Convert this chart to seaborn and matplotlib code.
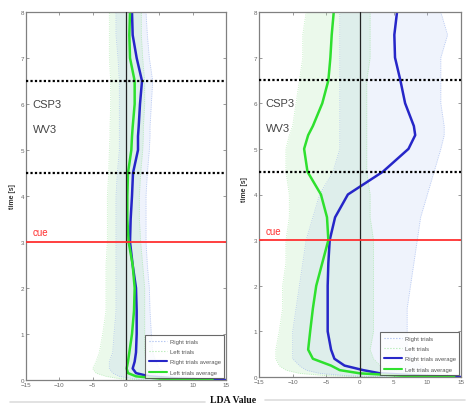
import numpy as np
import pandas as pd
import matplotlib
matplotlib.use("Agg")
import matplotlib.pyplot as plt
from matplotlib.lines import Line2D
import seaborn as sns

# ---------------- data ----------------
time_s = [0.0, 0.03, 0.08, 0.15, 0.25, 0.4, 0.6, 1.0, 1.5, 2.0, 2.5, 3.0,
          3.5, 4.0, 4.5, 5.0, 5.3, 5.5, 6.0, 6.5, 7.0, 7.5, 8.0]

# left panel averages
p1_right_avg = [15, 8, 3.5, 1.5, 1.0, 1.3, 1.5, 1.6, 1.6, 1.5, 1.0, 0.6,
                0.7, 0.9, 1.05, 1.8, 1.8, 1.9, 2.1, 2.4, 1.6, 1.0, 0.9]
p1_left_avg = [13, 5, 1.5, 0.3, 0.1, 0.3, 0.5, 0.9, 1.2, 1.3, 1.0, 0.4,
               0.2, 0.2, 0.3, 0.8, 0.9, 1.0, 1.3, 1.3, 0.6, 0.5, 0.6]
# left panel trial envelopes
p1_right_lo = [3, 1, -1, -2, -2.5, -2.5, -2, -1.8, -1.5, -1.5, -1.5, -1.5,
               -1.5, -1.5, -1.3, -1, -1, -1, -1, -1, -1.2, -1.5, -1.5]
p1_right_hi = [15, 12, 8, 6, 5, 4.5, 4, 3.8, 3.6, 3.5, 3.2, 3,
               3, 3, 3.2, 3.5, 3.6, 3.6, 3.8, 4, 3.5, 3.2, 3]
p1_left_lo = [2, -1, -3, -4.5, -5, -4.5, -4, -3.5, -3, -3, -3, -2.8,
              -2.8, -2.8, -2.6, -2.5, -2.4, -2.4, -2.3, -2.3, -2.5, -2.5, -2.5]
p1_left_hi = [13, 10, 6, 4, 3, 3, 2.8, 2.8, 2.8, 2.8, 2.5, 2.2,
              2, 2, 2.2, 2.5, 2.6, 2.6, 2.8, 2.8, 2.5, 2.3, 2.3]

# right panel averages
p2_right_avg = [15, 9, 3, 0.5, -2.3, -3.8, -4.3, -4.8, -4.8, -4.8, -4.7, -4.5,
                -3.7, -1.8, 3.4, 7.2, 8.2, 8.0, 6.7, 6.0, 5.2, 5.1, 5.5]
p2_left_avg = [14, 6, 0, -3, -4.3, -7.0, -7.7, -7.4, -7.0, -6.5, -5.6, -4.7,
               -4.9, -5.8, -7.8, -8.3, -7.7, -7.0, -5.6, -4.7, -4.4, -4.2, -3.9]
# right panel trial envelopes
p2_right_lo = [4, -2, -6, -8, -9, -10, -10, -10, -9.5, -9, -8.5, -8,
               -7, -6, -4, -3, -3, -3, -3, -3, -3, -3, -3]
p2_right_hi = [15, 14, 12, 10, 9, 8, 7, 7, 7, 7.5, 8, 8.5,
               9, 10, 11, 12, 12.5, 12.5, 12, 12, 12, 13, 12]
p2_left_lo = [3, -5, -9, -11, -12, -12.5, -12.5, -12, -11.5, -11.5, -11, -11,
              -10.5, -10.5, -11, -11, -10.5, -10, -9.5, -9, -8.5, -8.5, -8]
p2_left_hi = [14, 12, 8, 5, 3, 2, 1.5, 2, 2, 2, 2, 2,
              1.5, 1.5, 1, 1, 1, 1, 1, 1, 1.5, 1.5, 1.5]

x_ticks = [-15, -10, -5, 0, 5, 10, 15]
y_ticks = [0, 1, 2, 3, 4, 5, 6, 7, 8]
legend_labels = ["Right trials", "Left trials", "Right trials average", "Left trials average"]

# ---------------- styling ----------------
sns.set_style("white")
plt.rcParams["font.family"] = ["Liberation Sans Narrow", "Liberation Sans", "DejaVu Sans"]

BLUE = "#2626c8"
GREEN = "#2ee02e"
LBLUE = "#9fb6ee"
LGREEN = "#a8e8a8"

fig = plt.figure(figsize=(4.7, 4.06), dpi=100)
ax1 = fig.add_axes([26 / 470, 25 / 406, 200 / 470, 368 / 406])
ax2 = fig.add_axes([259 / 470, 28 / 406, 202 / 470, 365 / 406])

panels = [
    (ax1, p1_right_avg, p1_left_avg, p1_right_lo, p1_right_hi, p1_left_lo, p1_left_hi),
    (ax2, p2_right_avg, p2_left_avg, p2_right_lo, p2_right_hi, p2_left_lo, p2_left_hi),
]

for ax, r_avg, l_avg, r_lo, r_hi, l_lo, l_hi in panels:
    ax.fill_betweenx(time_s, l_lo, l_hi, color=LGREEN, alpha=0.22, lw=0)
    ax.fill_betweenx(time_s, r_lo, r_hi, color=LBLUE, alpha=0.16, lw=0)
    for lo, hi, c in [(r_lo, r_hi, LBLUE), (l_lo, l_hi, LGREEN)]:
        ax.plot(lo, time_s, color=c, lw=0.6, ls=":", alpha=0.8)
        ax.plot(hi, time_s, color=c, lw=0.6, ls=":", alpha=0.8)

    df = pd.DataFrame({"t": time_s * 2,
                       "v": list(r_avg) + list(l_avg),
                       "kind": ["Right trials average"] * len(time_s) + ["Left trials average"] * len(time_s)})
    sns.lineplot(data=df, x="v", y="t", hue="kind", sort=False, estimator=None,
                 palette={"Right trials average": BLUE, "Left trials average": GREEN},
                 lw=1.8, legend=False, ax=ax)

    ax.axvline(0, color="#222222", lw=0.9, zorder=3)
    ax.axhline(6.5, color="black", lw=1.6, ls=(0, (1, 1)), zorder=3)
    ax.axhline(4.5, color="black", lw=1.6, ls=(0, (1, 1)), zorder=3)
    ax.axhline(3.0, color="#ff3030", lw=1.3, zorder=3)
    ax.text(-14, 3.1, "cue", color="#ff3030", fontsize=7, va="bottom")
    ax.text(-14, 6.0, "CSP3", color="#444444", fontsize=8, va="center")
    ax.text(-14, 5.45, "WV3", color="#444444", fontsize=8, va="center")

    ax.set_xlim(-15, 15)
    ax.set_ylim(0, 8)
    ax.set_xticks(x_ticks)
    ax.set_yticks(y_ticks)
    ax.set_xlabel("")
    ax.set_ylabel("")
    ax.tick_params(direction="in", length=2.5, width=0.6, labelsize=4.5,
                   labelcolor="#666666", color="#888888", top=True, right=True,
                   bottom=True, left=True, pad=1.5)
    for s in ax.spines.values():
        s.set_color("#808080")
        s.set_linewidth(0.9)

    handles = [Line2D([], [], color=LBLUE, lw=0.8, ls=":"),
               Line2D([], [], color=LGREEN, lw=0.8, ls=":"),
               Line2D([], [], color=BLUE, lw=1.5),
               Line2D([], [], color=GREEN, lw=1.5)]
    leg = ax.legend(handles, legend_labels, loc="lower right", fontsize=4.2,
                    frameon=True, fancybox=False, handlelength=3.2,
                    borderpad=0.6, labelspacing=0.9, borderaxespad=0.3,
                    handletextpad=0.4)
    leg.get_frame().set_edgecolor("#444444")
    leg.get_frame().set_linewidth(0.8)
    for t in leg.get_texts():
        t.set_color("#555555")

fig.text(13 / 470, 1 - 197 / 406, "time [s]", rotation=90, fontsize=5,
         fontweight="bold", color="#333333", ha="center", va="center")
fig.text(244 / 470, 1 - 190 / 406, "time [s]", rotation=90, fontsize=5,
         fontweight="bold", color="#333333", ha="center", va="center")
fig.text(233 / 470, 1 - 401 / 406, "LDA Value", fontsize=7, fontweight="bold",
         family=["Liberation Serif", "DejaVu Serif"], ha="center", va="center",
         color="#111111")
fig.add_artist(Line2D([10 / 470, 205 / 470], [3 / 406, 3 / 406], color="#dddddd", lw=1.2))
fig.add_artist(Line2D([265 / 470, 465 / 470], [5 / 406, 5 / 406], color="#dddddd", lw=1.2))

fig.savefig("out.png", dpi=100)
